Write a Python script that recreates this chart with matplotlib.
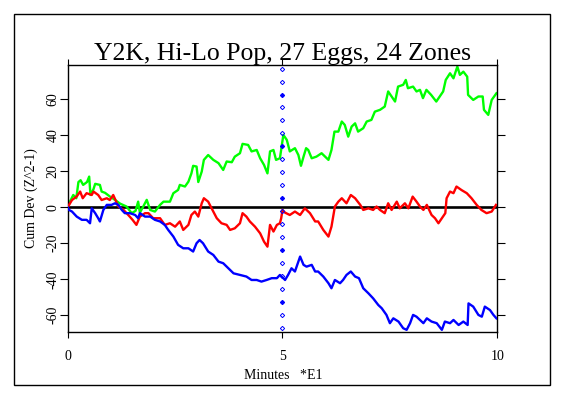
import matplotlib
matplotlib.use("Agg")
import matplotlib.pyplot as plt
import numpy as np
from matplotlib.patches import Rectangle

# cumulative deviation traces (x in minutes *E1)
green_x = [0.0, 0.05, 0.13, 0.2, 0.25, 0.3, 0.36, 0.45, 0.5, 0.53, 0.6, 0.64, 0.75, 0.79, 0.87,
           0.98, 1.1, 1.22, 1.37, 1.49, 1.58, 1.64, 1.68, 1.75, 1.84, 1.92, 2.03, 2.15, 2.23, 2.38,
           2.46, 2.57, 2.61, 2.73, 2.81, 2.88, 2.92, 3.0, 3.04, 3.12, 3.17, 3.27, 3.39, 3.51, 3.62,
           3.7, 3.82, 3.89, 4.01, 4.07, 4.2, 4.28, 4.4, 4.48, 4.57, 4.65, 4.71, 4.79, 4.85, 4.94,
           5.02, 5.1, 5.17, 5.29, 5.37, 5.43, 5.49, 5.55, 5.6, 5.68, 5.79, 5.91, 6.07, 6.14, 6.21,
           6.3, 6.38, 6.45, 6.53, 6.61, 6.69, 6.76, 6.88, 6.96, 7.07, 7.15, 7.27, 7.38, 7.46, 7.54,
           7.62, 7.69, 7.81, 7.87, 7.92, 8.04, 8.12, 8.2, 8.27, 8.35, 8.46, 8.58, 8.66, 8.74, 8.8,
           8.9, 8.98, 9.07, 9.13, 9.21, 9.3, 9.32, 9.44, 9.56, 9.66, 9.69, 9.79, 9.87, 9.98]
green_y = [0.0, 3.0, 6.8, 5.0, 14.0, 15.0, 12.4, 14.0, 17.0, 6.8, 10.0, 13.0, 12.4, 8.7, 8.0,
           6.0, 4.1, 2.0, 0.4, -3.3, -2.0, 3.1, -3.0, 0.0, 4.1, -1.5, -2.4, 1.3, 3.1, 3.1,
           7.8, 9.6, 12.4, 11.5, 14.2, 18.8, 23.0, 22.6, 14.0, 19.8, 26.3, 29.0, 26.3, 24.5, 20.7,
           25.4, 25.0, 28.1, 30.0, 35.2, 34.6, 31.0, 31.8, 27.2, 23.5, 18.8, 31.0, 31.8, 26.3, 27.2,
           40.2, 37.4, 31.0, 32.8, 29.0, 23.0, 28.1, 32.8, 31.8, 27.2, 28.1, 30.0, 26.3, 31.8, 42.0,
           42.0, 47.6, 45.7, 39.2, 44.8, 46.6, 42.0, 43.9, 47.6, 48.5, 53.1, 54.1, 55.9, 64.3, 61.5,
           58.7, 67.0, 68.0, 70.7, 66.1, 67.0, 64.3, 65.2, 60.6, 65.2, 62.4, 58.7, 61.5, 64.3, 70.7,
           74.4, 71.6, 78.1, 73.5, 75.3, 72.5, 62.4, 59.6, 61.5, 61.5, 54.1, 51.3, 59.6, 63.3]

red_x = [0.0, 0.1, 0.21, 0.29, 0.35, 0.44, 0.56, 0.6, 0.71, 0.79, 0.91, 0.98, 1.06, 1.18, 1.3,
         1.41, 1.51, 1.6, 1.68, 1.8, 1.88, 1.99, 2.15, 2.26, 2.38, 2.5, 2.61, 2.69, 2.81, 2.88,
         2.96, 3.04, 3.12, 3.17, 3.27, 3.35, 3.47, 3.58, 3.7, 3.78, 3.89, 4.01, 4.07, 4.16, 4.24,
         4.36, 4.48, 4.57, 4.65, 4.71, 4.79, 4.87, 4.94, 4.97, 5.0, 5.06, 5.17, 5.29, 5.41, 5.52,
         5.64, 5.76, 5.83, 5.95, 6.07, 6.14, 6.22, 6.3, 6.38, 6.49, 6.59, 6.69, 6.81, 6.88, 7.0,
         7.11, 7.19, 7.27, 7.38, 7.46, 7.54, 7.66, 7.73, 7.85, 7.93, 8.03, 8.12, 8.2, 8.28, 8.36,
         8.47, 8.55, 8.63, 8.71, 8.79, 8.82, 8.9, 8.98, 9.05, 9.17, 9.29, 9.4, 9.52, 9.63, 9.75,
         9.87, 9.97]
red_y = [0.0, 4.0, 6.0, 8.7, 5.0, 7.8, 6.8, 8.7, 6.8, 4.0, 5.0, 4.0, 6.8, 0.4, -1.5,
         -4.3, -7.0, -9.8, -5.2, -3.3, -3.3, -6.1, -6.1, -9.8, -8.9, -10.8, -7.9, -12.6, -9.8, -4.3,
         -2.4, -5.2, 2.2, 5.0, 3.1, -0.6, -6.1, -8.9, -9.8, -12.6, -11.7, -8.9, -3.3, -5.2, -7.9,
         -10.8, -14.5, -19.1, -21.9, -9.8, -13.5, -9.8, -8.9, -6.1, -1.5, -3.0, -4.3, -2.4, -4.3, -0.6,
         -3.3, -7.9, -7.9, -12.6, -16.3, -10.8, 0.4, 3.1, 5.0, 2.2, 6.8, 5.0, 1.3, -1.5, -0.6,
         -1.5, 0.4, -1.5, -3.3, 2.2, -1.5, 3.1, -0.6, 2.2, -0.6, 5.9, 3.1, 0.4, -1.5, 1.3,
         -4.3, -6.1, -8.9, -6.1, -3.3, 5.0, 8.7, 7.8, 11.5, 9.5, 7.8, 5.0, 1.3, -1.5, -3.3,
         -2.4, 1.3]

blue_x = [0.0, 0.03, 0.1, 0.21, 0.33, 0.44, 0.52, 0.56, 0.64, 0.71, 0.75, 0.83, 0.91, 1.02, 1.1,
          1.18, 1.26, 1.33, 1.45, 1.57, 1.64, 1.68, 1.8, 1.92, 2.03, 2.15, 2.26, 2.34, 2.46, 2.57,
          2.69, 2.81, 2.92, 3.0, 3.07, 3.15, 3.27, 3.39, 3.51, 3.62, 3.74, 3.86, 4.01, 4.16, 4.28,
          4.4, 4.51, 4.63, 4.75, 4.87, 4.94, 5.06, 5.13, 5.21, 5.29, 5.41, 5.49, 5.56, 5.68, 5.76,
          5.83, 5.95, 6.07, 6.14, 6.22, 6.34, 6.41, 6.49, 6.59, 6.69, 6.78, 6.88, 7.0, 7.11, 7.23,
          7.31, 7.42, 7.5, 7.58, 7.7, 7.81, 7.89, 7.97, 8.04, 8.12, 8.2, 8.28, 8.36, 8.47, 8.59,
          8.71, 8.78, 8.9, 8.98, 9.1, 9.21, 9.31, 9.33, 9.44, 9.56, 9.64, 9.71, 9.83, 9.91, 9.98]
blue_y = [0.0, -1.5, -2.4, -5.2, -7.0, -7.0, -8.9, -0.6, -3.3, -6.1, -7.9, -1.5, 1.3, 1.3, 2.2,
          1.3, -1.5, -3.3, -3.3, -4.3, -6.1, -3.3, -5.2, -5.2, -7.0, -7.9, -9.8, -12.6, -16.3, -20.9,
          -22.8, -22.8, -24.6, -20.0, -18.2, -20.0, -24.6, -26.5, -30.2, -31.1, -33.9, -36.7, -37.6, -38.5, -40.4,
          -40.4, -41.3, -40.4, -39.4, -39.4, -37.6, -40.4, -37.6, -33.9, -35.7, -27.4, -32.0, -33.0, -32.0, -35.7,
          -35.7, -38.5, -42.2, -45.0, -40.4, -42.2, -40.4, -37.6, -35.7, -38.5, -39.4, -45.0, -47.8, -50.6, -54.3,
          -56.1, -59.8, -64.4, -61.7, -63.5, -67.2, -68.1, -64.4, -59.8, -60.8, -62.6, -64.4, -61.7, -63.5, -64.4,
          -68.1, -63.5, -64.4, -62.6, -65.4, -63.5, -65.4, -53.4, -55.2, -59.8, -60.8, -55.2, -57.1, -59.8, -61.7]

event_x = 5
x_ticks = [0, 5, 10]
y_ticks = [-60, -40, -20, 0, 20, 40, 60]

title = "Y2K, Hi-Lo Pop, 27 Eggs, 24 Zones"

plt.rcParams["font.family"] = ["Liberation Serif", "DejaVu Serif"]
plt.rcParams["axes.unicode_minus"] = False

fig = plt.figure(figsize=(5.66, 3.97), dpi=100)
fig.patches.append(Rectangle((0.0256, 0.0302), 0.947, 0.9335, transform=fig.transFigure,
                             fill=False, edgecolor="black", linewidth=1.0))

ax = fig.add_axes([0.1196, 0.1637, 0.759, 0.6735])
ax.set_xlim(0, 10)
ax.set_ylim(-69.3, 79.2)

ax.axhline(0, color="black", linewidth=1.9, zorder=1)

ax.plot(green_x, green_y, color="#00ff00", linewidth=1.7, zorder=2)
ax.plot(red_x, red_y, color="#ff0000", linewidth=1.7, zorder=3)
ax.plot(blue_x, blue_y, color="#0000ff", linewidth=1.7, zorder=4)

# event marker: vertical line of small blue symbols
marks = np.linspace(-67, 77, 21)
ax.plot([event_x] * len(marks), marks, ls="none", marker="D", ms=2.2,
        mfc="none", mec="#0000ff", mew=0.7, zorder=5, clip_on=False)
ax.plot([event_x] * len(marks[2::4]), marks[2::4], ls="none", marker="s", ms=2.0,
        mfc="#0000ff", mec="#0000ff", zorder=6)

for sp in ax.spines.values():
    sp.set_linewidth(1.0)

ax.set_xticks(x_ticks)
ax.set_yticks(y_ticks)
ax.tick_params(axis="x", direction="out", length=4, width=0.8, labelsize=10, pad=9)
ax.tick_params(axis="y", direction="out", length=6, width=0.8, labelsize=10, pad=0,
               right=True)
ax.tick_params(axis="x", top=True)
for lab in ax.get_yticklabels():
    lab.set_rotation(90)
    lab.set_va("center")

ax.set_title(title, fontsize=18.5, pad=3)
ax.set_xlabel("Minutes   *E1", fontsize=10)
ax.set_ylabel("Cum Dev (Z^2-1)", fontsize=10)
ax.xaxis.set_label_coords(0.501, -0.161)
ax.xaxis.label.set_va("center")
ax.yaxis.set_label_coords(-0.0838, 0.501)
ax.yaxis.label.set_va("center")

fig.savefig("out.png", dpi=100)
